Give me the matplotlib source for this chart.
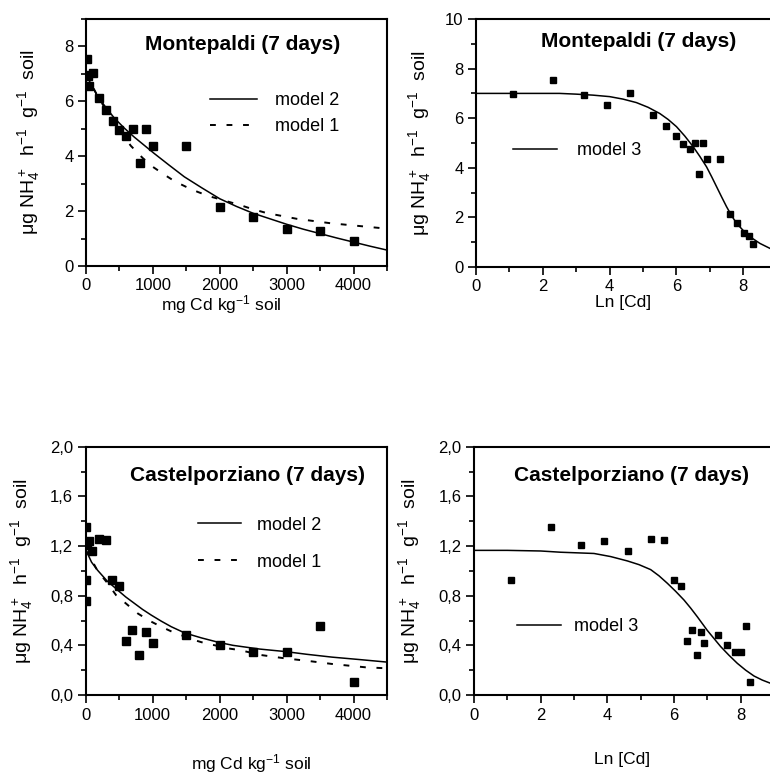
import matplotlib
matplotlib.use("Agg")
import matplotlib.pyplot as plt
from matplotlib.ticker import MultipleLocator, FuncFormatter

plt.rcParams['font.family'] = ['Liberation Sans', 'DejaVu Sans']
plt.rcParams['mathtext.fontset'] = 'custom'
plt.rcParams['mathtext.rm'] = 'Liberation Sans'
plt.rcParams['mathtext.it'] = 'Liberation Sans:italic'

# measured data (mg Cd / kg soil and its natural log)
conc = [3, 10, 25, 50, 100, 200, 300, 400, 500, 600, 700, 800, 900, 1000,
        1500, 2000, 2500, 3000, 3500, 4000]
ln_conc = [1.10, 2.30, 3.22, 3.91, 4.61, 5.30, 5.70, 5.99, 6.21, 6.40, 6.55,
           6.68, 6.80, 6.91, 7.31, 7.60, 7.82, 8.01, 8.16, 8.29]
montepaldi = [6.96, 7.54, 6.93, 6.55, 7.03, 6.12, 5.69, 5.30, 4.95, 4.74, 5.00,
              3.74, 5.00, 4.37, 4.37, 2.14, 1.78, 1.36, 1.27, 0.92]
castel = [0.93, 1.35, 1.21, 1.24, 1.16, 1.26, 1.25, 0.93, 0.875, 0.435, 0.52,
          0.32, 0.51, 0.415, 0.485, 0.405, 0.35, 0.35, 0.555, 0.105]
castel_ctrl_x = [0]
castel_ctrl_y = [0.76]

# fitted model curves
mp_m2_x = [0, 80, 170, 290, 420, 570, 720, 870, 1020, 1240, 1470, 1730, 2000,
           2250, 2500, 2750, 3000, 3250, 3500, 3750, 4000, 4250, 4500]
mp_m2_y = [7.0, 6.6, 6.2, 5.8, 5.4, 5.03, 4.7, 4.4, 4.1, 3.68, 3.25, 2.85, 2.45,
           2.17, 1.92, 1.72, 1.52, 1.34, 1.18, 1.02, 0.87, 0.72, 0.58]
mp_m1_x = [0, 150, 300, 450, 670, 845, 995, 1170, 1330, 1500, 1670, 1845, 2020,
           2330, 2480, 2700, 3150, 3650, 4200, 4500]
mp_m1_y = [7.0, 6.3, 5.68, 5.12, 4.38, 3.94, 3.62, 3.33, 3.08, 2.88, 2.70, 2.54,
           2.42, 2.2, 2.08, 1.93, 1.72, 1.56, 1.43, 1.36]
mp_m3_x = [0, 1, 2, 2.5, 3.0, 3.5, 4.0, 4.4, 4.8, 5.15, 5.5, 5.75, 6.0, 6.25,
           6.5, 6.7, 6.9, 7.05, 7.2, 7.35, 7.5, 7.65, 7.8, 8.0, 8.2, 8.5, 8.8]
mp_m3_y = [7.0, 7.0, 7.0, 7.0, 6.97, 6.93, 6.87, 6.77, 6.63, 6.44, 6.19, 5.95,
           5.66, 5.28, 4.85, 4.46, 4.04, 3.65, 3.24, 2.83, 2.43, 2.07, 1.76,
           1.47, 1.22, 0.95, 0.75]

cp_m2_x = [0, 30, 90, 180, 320, 480, 600, 730, 850, 980, 1130, 1280, 1480, 1730,
           1980, 2200, 2600, 2980, 3300, 3680, 4100, 4500]
cp_m2_y = [1.17, 1.14, 1.07, 1.005, 0.92, 0.845, 0.79, 0.738, 0.69, 0.644, 0.595,
           0.55, 0.50, 0.46, 0.425, 0.40, 0.37, 0.35, 0.328, 0.305, 0.285, 0.265]
cp_m1_x = [0, 90, 180, 330, 455, 630, 780, 955, 1130, 1290, 1620, 1790, 1960,
           2120, 2300, 2620, 2980, 3330, 3680, 4180, 4500]
cp_m1_y = [1.17, 1.09, 1.0, 0.90, 0.805, 0.725, 0.657, 0.598, 0.55, 0.51, 0.443,
           0.416, 0.397, 0.376, 0.362, 0.322, 0.295, 0.274, 0.25, 0.223, 0.215]
cp_m3_x = [0, 1, 2, 2.6, 3.1, 3.6, 4.1, 4.6, 4.95, 5.3, 5.55, 5.8, 6.05, 6.3,
           6.5, 6.7, 6.85, 7.0, 7.2, 7.4, 7.65, 7.9, 8.15, 8.4, 8.65, 8.9]
cp_m3_y = [1.165, 1.165, 1.16, 1.15, 1.145, 1.14, 1.115, 1.08, 1.05, 1.01, 0.96,
           0.90, 0.835, 0.765, 0.70, 0.63, 0.575, 0.52, 0.455, 0.39, 0.32,
           0.255, 0.20, 0.153, 0.12, 0.094]

ylab = u'\u03bcg NH$_4^+$  h$^{-1}$  g$^{-1}$  soil'
xlab_conc = 'mg Cd kg$^{-1}$ soil'
xlab_ln = 'Ln [Cd]'
dash = (0, (3, 5.5))

fig = plt.figure(figsize=(7.70, 7.73), dpi=100)
W, H = 770.0, 773.0


def make_ax(l, r, t, b):
    return fig.add_axes([l / W, 1 - b / H, (r - l) / W, (b - t) / H])


def style(ax, hide_right=False):
    for s in ax.spines.values():
        s.set_linewidth(1.5)
    if hide_right:
        ax.spines['right'].set_visible(False)
    ax.tick_params(which='both', direction='out', top=False, right=False,
                   labelsize=12, width=1.2)
    ax.tick_params(which='major', length=5.5)
    ax.tick_params(which='minor', length=3.5)


comma = FuncFormatter(lambda v, p: f"{v:.1f}".replace('.', ','))

# top left
ax1 = make_ax(86, 387, 19, 266)
ax1.plot(mp_m2_x, mp_m2_y, color='black', lw=1.1, label='model 2')
ax1.plot(mp_m1_x, mp_m1_y, color='black', lw=1.4, ls=dash, label='model 1')
ax1.plot(conc, montepaldi, 's', color='black', ms=5.5)
ax1.set_xlim(0, 4500)
ax1.set_ylim(0, 9)
ax1.xaxis.set_major_locator(MultipleLocator(1000))
ax1.xaxis.set_minor_locator(MultipleLocator(500))
ax1.yaxis.set_major_locator(MultipleLocator(2))
ax1.yaxis.set_minor_locator(MultipleLocator(1))
style(ax1)
ax1.set_xlabel(xlab_conc, fontsize=12.5)
ax1.set_ylabel(ylab, fontsize=14)
ax1.xaxis.set_label_coords(0.45, -0.11)
ax1.yaxis.set_label_coords(-0.146, 0.5)
ax1.text(0.52, 0.895, 'Montepaldi (7 days)', transform=ax1.transAxes,
         ha='center', va='center', fontsize=15, fontweight='bold')
ax1.legend(loc='upper left', bbox_to_anchor=(0.412, 0.705), frameon=False,
           fontsize=13, handlelength=2.6, handletextpad=1.0, labelspacing=0.52,
           borderpad=0, borderaxespad=0)

# top right
ax2 = make_ax(476, 770, 19, 267)
ax2.plot(mp_m3_x, mp_m3_y, color='black', lw=1.1, label='model 3')
ax2.plot(ln_conc, montepaldi, 's', color='black', ms=5)
ax2.set_xlim(0, 8.8)
ax2.set_ylim(0, 10)
ax2.xaxis.set_major_locator(MultipleLocator(2))
ax2.xaxis.set_minor_locator(MultipleLocator(1))
ax2.yaxis.set_major_locator(MultipleLocator(2))
ax2.yaxis.set_minor_locator(MultipleLocator(1))
style(ax2, hide_right=True)
ax2.set_xlabel(xlab_ln, fontsize=12.5)
ax2.set_ylabel(ylab, fontsize=14)
ax2.xaxis.set_label_coords(0.5, -0.113)
ax2.yaxis.set_label_coords(-0.146, 0.5)
ax2.text(0.553, 0.908, 'Montepaldi (7 days)', transform=ax2.transAxes,
         ha='center', va='center', fontsize=15, fontweight='bold')
ax2.legend(loc='center left', bbox_to_anchor=(0.125, 0.47), frameon=False,
           fontsize=13, handlelength=2.45, handletextpad=1.1,
           borderpad=0, borderaxespad=0)

# bottom left
ax3 = make_ax(85.5, 387, 446.7, 695)
ax3.plot(cp_m2_x, cp_m2_y, color='black', lw=1.1, label='model 2')
ax3.plot(cp_m1_x, cp_m1_y, color='black', lw=1.4, ls=dash, label='model 1')
ax3.plot(conc, castel, 's', color='black', ms=5.5)
ax3.plot(castel_ctrl_x, castel_ctrl_y, 's', color='black', ms=5.5)
ax3.set_xlim(0, 4500)
ax3.set_ylim(0, 2.0)
ax3.xaxis.set_major_locator(MultipleLocator(1000))
ax3.xaxis.set_minor_locator(MultipleLocator(500))
ax3.yaxis.set_major_locator(MultipleLocator(0.4))
ax3.yaxis.set_minor_locator(MultipleLocator(0.2))
ax3.yaxis.set_major_formatter(comma)
style(ax3)
ax3.set_xlabel(xlab_conc, fontsize=12.5)
ax3.set_ylabel(ylab, fontsize=14)
ax3.xaxis.set_label_coords(0.55, -0.228)
ax3.yaxis.set_label_coords(-0.168, 0.5)
ax3.text(0.537, 0.882, 'Castelporziano (7 days)', transform=ax3.transAxes,
         ha='center', va='center', fontsize=15, fontweight='bold')
ax3.legend(loc='upper left', bbox_to_anchor=(0.373, 0.718), frameon=False,
           fontsize=13, handlelength=2.4, handletextpad=0.85, labelspacing=1.1,
           borderpad=0, borderaxespad=0)

# bottom right
ax4 = make_ax(474, 770, 446.7, 695)
ax4.plot(cp_m3_x, cp_m3_y, color='black', lw=1.1, label='model 3')
ax4.plot(ln_conc, castel, 's', color='black', ms=5)
ax4.set_xlim(0, 8.88)
ax4.set_ylim(0, 2.0)
ax4.xaxis.set_major_locator(MultipleLocator(2))
ax4.xaxis.set_minor_locator(MultipleLocator(1))
ax4.yaxis.set_major_locator(MultipleLocator(0.4))
ax4.yaxis.set_minor_locator(MultipleLocator(0.2))
ax4.yaxis.set_major_formatter(comma)
style(ax4, hide_right=True)
ax4.set_xlabel(xlab_ln, fontsize=12.5)
ax4.set_ylabel(ylab, fontsize=14)
ax4.xaxis.set_label_coords(0.5, -0.228)
ax4.yaxis.set_label_coords(-0.172, 0.5)
ax4.text(0.533, 0.886, 'Castelporziano (7 days)', transform=ax4.transAxes,
         ha='center', va='center', fontsize=15, fontweight='bold')
ax4.legend(loc='center left', bbox_to_anchor=(0.144, 0.275), frameon=False,
           fontsize=13, handlelength=2.45, handletextpad=0.75,
           borderpad=0, borderaxespad=0)

fig.savefig('out.png', dpi=100)
